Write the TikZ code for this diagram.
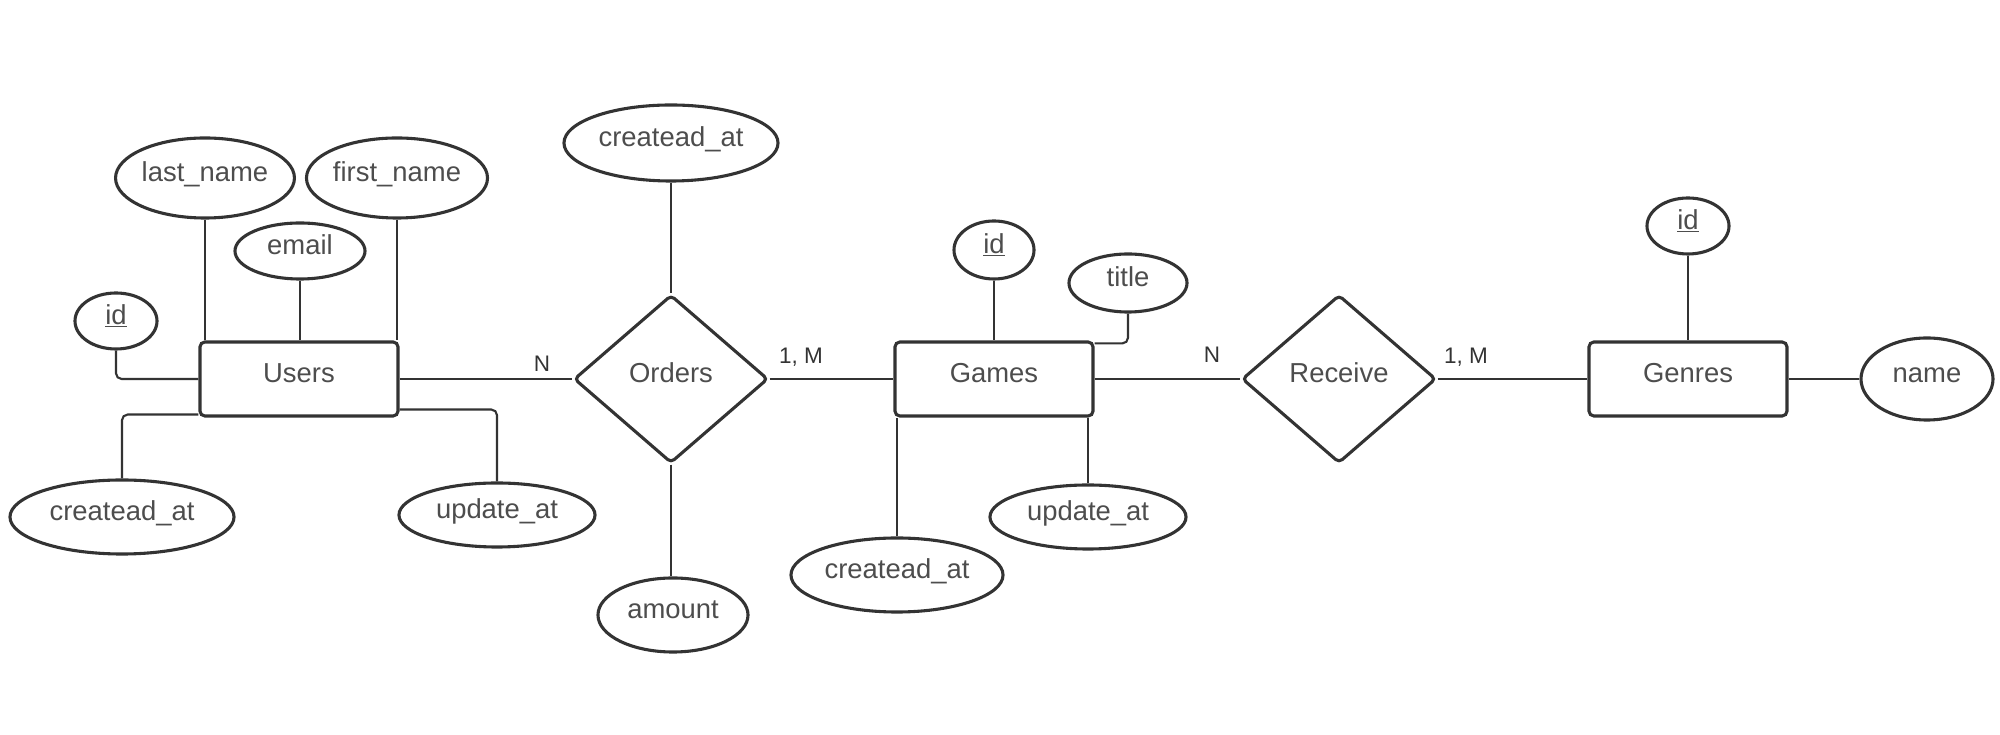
\documentclass[tikz,border=0pt]{standalone}
\usepackage{fontspec}
\setmainfont{Liberation Sans}
\usetikzlibrary{shapes.geometric, calc}
\definecolor{edgegray}{HTML}{333333}
\definecolor{textgray}{HTML}{4D4D4D}

\begin{document}
\begin{tikzpicture}[x=0.025cm, y=0.025cm,
  entity/.style={draw=edgegray, line width=2.2pt, rounded corners=3.5pt, text=textgray,
    font=\fontsize{19.5}{23}\selectfont, inner sep=0pt, text height=0.75em, text depth=0.3em,
    minimum width=4.95cm, minimum height=1.85cm},
  attr/.style={ellipse, draw=edgegray, line width=2.2pt, text=textgray,
    font=\fontsize{19.5}{23}\selectfont, inner sep=0pt, text height=0.75em, text depth=0.28em},
  rel/.style={diamond, draw=edgegray, line width=2.2pt, rounded corners=3pt, text=textgray,
    font=\fontsize{19.5}{23}\selectfont, inner sep=0pt, text height=0.75em, text depth=0.22em,
    minimum width=4.85cm, minimum height=4.2cm},
  link/.style={draw=edgegray, line width=1.5pt, rounded corners=4pt},
  card/.style={text=edgegray, font=\fontsize{16}{19}\selectfont, inner sep=0pt}]
\useasboundingbox (0, 0) rectangle (2000, 735);

% entities and relations
\node [entity] (users) at (299, 356) {Users};
\node [rel] (orders) at (671, 356) {Orders};
\node [entity] (games) at (994, 356) {Games};
\node [rel] (receive) at (1339, 356) {Receive};
\node [entity] (genres) at (1688, 356) {Genres};

% users attributes
\node [attr, minimum width=2.05cm, minimum height=1.4cm] (uid) at (116, 414) {\underline{id}};
\node [attr, minimum width=4.45cm, minimum height=2cm] (ulast) at (205, 557) {last\_name};
\node [attr, minimum width=4.45cm, minimum height=2cm] (ufirst) at (397, 557) {first\_name};
\node [attr, minimum width=3.25cm, minimum height=1.4cm] (uemail) at (300, 484) {email};
\node [attr, minimum width=5.6cm, minimum height=1.85cm] (ucreated) at (122, 218) {createad\_at};
\node [attr, minimum width=4.9cm, minimum height=1.6cm] (uupdate) at (497, 220) {update\_at};

% orders attributes
\node [attr, minimum width=5.35cm, minimum height=1.9cm] (ocreated) at (671, 592) {createad\_at};
\node [attr, minimum width=3.75cm, minimum height=1.85cm] (amount) at (673, 120) {amount};

% games attributes
\node [attr, minimum width=2cm, minimum height=1.45cm] (gid) at (994, 485) {\underline{id}};
\node [attr, minimum width=2.95cm, minimum height=1.45cm] (title) at (1128, 452) {title};
\node [attr, minimum width=5.3cm, minimum height=1.85cm] (gcreated) at (897, 160) {createad\_at};
\node [attr, minimum width=4.9cm, minimum height=1.6cm] (gupdate) at (1088, 218) {update\_at};

% genres attributes
\node [attr, minimum width=2.05cm, minimum height=1.4cm] (nid) at (1688, 509) {\underline{id}};
\node [attr, minimum width=3.3cm, minimum height=2.05cm] (name) at (1927, 356) {name};

% cardinalities
\node [card] (c1) at (542, 371) {N};
\node [card] (c2) at (801, 378) {1, M};
\node [card] (c3) at (1212, 380) {N};
\node [card] (c4) at (1466, 378) {1, M};

% links
\draw [link] (uid.south) |- (users.west);
\draw [link] (ulast.south) -- (ulast.south |- users.north);
\draw [link] (uemail.south) -- (uemail.south |- users.north);
\draw [link] (ufirst.south) -- (ufirst.south |- users.north);
\draw [link] (ucreated.north) |- ($(users.south west)+(0, 3)$);
\draw [link] (uupdate.north) |- ($(users.south east)+(0, 8)$);
\draw [link] (users.east) -- (orders.west);
\draw [link] (ocreated.south) -- (orders.north);
\draw [link] (orders.south) -- (orders.south |- amount.north);
\draw [link] (orders.east) -- (games.west);
\draw [link] (gid.south) -- (games.north);
\draw [link] (title.south) |- ($(games.north east)+(0, -3)$);
\draw [link] (gcreated.north) -- (gcreated.north |- games.south);
\draw [link] (gupdate.north) -- (gupdate.north |- games.south);
\draw [link] (games.east) -- (receive.west);
\draw [link] (receive.east) -- (genres.west);
\draw [link] (nid.south) -- (genres.north);
\draw [link] (genres.east) -- (name.west);
\end{tikzpicture}
\end{document}
